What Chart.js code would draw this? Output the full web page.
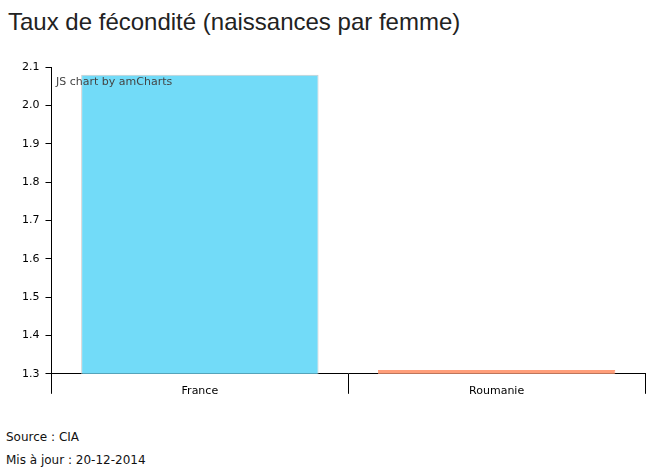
<!DOCTYPE html>
<html>
<head>
<meta charset="utf-8">
<script src="https://cdn.jsdelivr.net/npm/chart.js@4/dist/chart.umd.min.js"></script>
<style>
  body{ margin:0; background:#fff; width:660px; height:468px; position:relative; overflow:hidden; }
  #title{ position:absolute; left:8px; top:8px; font-family:"Liberation Sans",Arial,sans-serif; font-size:24px; color:#222; }
  #wrap{ position:absolute; left:0; top:53px; width:660px; height:356px; }
  #credit{ position:absolute; left:56px; top:75px; font-family:"DejaVu Sans",Verdana,sans-serif; font-size:11px; color:#444; }
  .foot{ position:absolute; left:6px; font-family:"DejaVu Sans",Verdana,sans-serif; font-size:12px; color:#111; }
</style>
</head>
<body>
<div id="title">Taux de fécondité (naissances par femme)</div>
<div id="wrap"><canvas id="c" width="660" height="356"></canvas></div>
<div id="credit">JS chart by amCharts</div>
<div class="foot" style="top:430px">Source : CIA</div>
<div class="foot" style="top:453px">Mis à jour : 20-12-2014</div>
<script>
const pays=["France","Roumanie"];
const fecondite=[2.08,1.31];
const couleurs=["#72DBF8","#FF9E7A"];
const bordures=["#cccccc","#FF9E7A"];
const yMin=1.3, yMax=2.1, yPas=0.1;

// traits de séparation des catégories sous l'axe
const separateurs={
  id:"separateurs",
  afterDraw(chart){
    const a=chart.chartArea, c=chart.ctx;
    const pas=(a.right-a.left)/pays.length;
    c.save(); c.strokeStyle="#000"; c.lineWidth=1;
    for(let i=0;i<=pays.length;i++){
      const px=Math.round(a.left+i*pas)+0.5;
      c.beginPath(); c.moveTo(px,a.bottom); c.lineTo(px,a.bottom+20); c.stroke();
    }
    c.restore();
  }
};

const ctx=document.getElementById("c").getContext("2d");
new Chart(ctx,{
  type:"bar",
  data:{
    labels:pays,
    datasets:[{
      data:fecondite,
      backgroundColor:couleurs,
      borderColor:bordures,
      borderWidth:1,
      barPercentage:0.8,
      categoryPercentage:1
    }]
  },
  options:{
    responsive:false,
    animation:false,
    maintainAspectRatio:false,
    layout:{ padding:{ top:14, right:15, left:16, bottom:0 } },
    plugins:{ legend:{display:false}, tooltip:{enabled:false} },
    scales:{
      x:{
        z:1,
        grid:{ drawOnChartArea:false, drawTicks:false },
        border:{ color:"#000" },
        ticks:{ color:"#000", font:{ family:"DejaVu Sans", size:11 }, padding:11 }
      },
      y:{
        z:1,
        min:yMin, max:yMax,
        grid:{ color:"rgba(255,255,255,0.35)", tickColor:"#000", tickLength:6 },
        border:{ color:"#000" },
        ticks:{ stepSize:yPas, color:"#000", font:{ family:"DejaVu Sans", size:11 }, padding:6,
          callback:v=>Number(v).toFixed(1) }
      }
    }
  },
  plugins:[separateurs]
});
</script>
</body>
</html>
